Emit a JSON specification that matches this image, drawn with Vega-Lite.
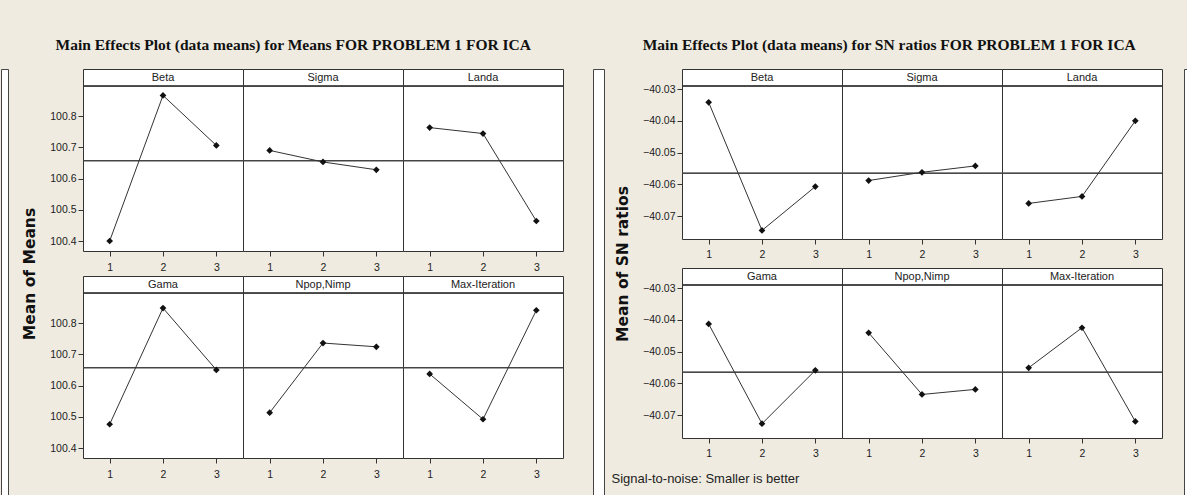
{
  "$schema": "https://vega.github.io/schema/vega-lite/v6.json",
  "background": "#efebe0",
  "padding": {"left": 0, "top": 5, "right": 0, "bottom": 0},
  "spacing": 28,
  "datasets": {
    "means": [
      {"factor": "Beta", "r": 1, "c": 1, "level": 1, "mean": 100.400},
      {"factor": "Beta", "r": 1, "c": 1, "level": 2, "mean": 100.866},
      {"factor": "Beta", "r": 1, "c": 1, "level": 3, "mean": 100.706},
      {"factor": "Sigma", "r": 1, "c": 2, "level": 1, "mean": 100.690},
      {"factor": "Sigma", "r": 1, "c": 2, "level": 2, "mean": 100.653},
      {"factor": "Sigma", "r": 1, "c": 2, "level": 3, "mean": 100.628},
      {"factor": "Landa", "r": 1, "c": 3, "level": 1, "mean": 100.763},
      {"factor": "Landa", "r": 1, "c": 3, "level": 2, "mean": 100.744},
      {"factor": "Landa", "r": 1, "c": 3, "level": 3, "mean": 100.464},
      {"factor": "Gama", "r": 2, "c": 1, "level": 1, "mean": 100.476},
      {"factor": "Gama", "r": 2, "c": 1, "level": 2, "mean": 100.848},
      {"factor": "Gama", "r": 2, "c": 1, "level": 3, "mean": 100.650},
      {"factor": "Npop,Nimp", "r": 2, "c": 2, "level": 1, "mean": 100.513},
      {"factor": "Npop,Nimp", "r": 2, "c": 2, "level": 2, "mean": 100.736},
      {"factor": "Npop,Nimp", "r": 2, "c": 2, "level": 3, "mean": 100.724},
      {"factor": "Max-Iteration", "r": 2, "c": 3, "level": 1, "mean": 100.637},
      {"factor": "Max-Iteration", "r": 2, "c": 3, "level": 2, "mean": 100.492},
      {"factor": "Max-Iteration", "r": 2, "c": 3, "level": 3, "mean": 100.841}
    ],
    "sn": [
      {"factor": "Beta", "r": 1, "c": 1, "level": 1, "sn": -40.0342},
      {"factor": "Beta", "r": 1, "c": 1, "level": 2, "sn": -40.0745},
      {"factor": "Beta", "r": 1, "c": 1, "level": 3, "sn": -40.0607},
      {"factor": "Sigma", "r": 1, "c": 2, "level": 1, "sn": -40.0588},
      {"factor": "Sigma", "r": 1, "c": 2, "level": 2, "sn": -40.0562},
      {"factor": "Sigma", "r": 1, "c": 2, "level": 3, "sn": -40.0542},
      {"factor": "Landa", "r": 1, "c": 3, "level": 1, "sn": -40.0660},
      {"factor": "Landa", "r": 1, "c": 3, "level": 2, "sn": -40.0638},
      {"factor": "Landa", "r": 1, "c": 3, "level": 3, "sn": -40.0400},
      {"factor": "Gama", "r": 2, "c": 1, "level": 1, "sn": -40.0413},
      {"factor": "Gama", "r": 2, "c": 1, "level": 2, "sn": -40.0727},
      {"factor": "Gama", "r": 2, "c": 1, "level": 3, "sn": -40.0559},
      {"factor": "Npop,Nimp", "r": 2, "c": 2, "level": 1, "sn": -40.0441},
      {"factor": "Npop,Nimp", "r": 2, "c": 2, "level": 2, "sn": -40.0635},
      {"factor": "Npop,Nimp", "r": 2, "c": 2, "level": 3, "sn": -40.0619},
      {"factor": "Max-Iteration", "r": 2, "c": 3, "level": 1, "sn": -40.0551},
      {"factor": "Max-Iteration", "r": 2, "c": 3, "level": 2, "sn": -40.0425},
      {"factor": "Max-Iteration", "r": 2, "c": 3, "level": 3, "sn": -40.0720}
    ]
  },
  "hconcat": [
    {
      "spacing": 13,
      "hconcat": [
        {
          "width": 7, "height": 487,
          "data": {"values": []},
          "mark": "rule",
          "encoding": {},
          "view": {"fill": "white", "stroke": "#444", "strokeWidth": 1}
        },
        {
          "title": {"text": ["", "Main Effects Plot (data means) for Means FOR PROBLEM 1 FOR ICA"], "lineHeight": 33, "offset": 15},
          "data": {"name": "means"},
          "facet": {
            "row": {"field": "r", "type": "ordinal", "header": {"title": "Mean of Means", "labels": false, "titlePadding": 1, "labelPadding": 0}},
            "column": {"field": "c", "type": "ordinal", "header": {"title": null, "labels": false, "labelPadding": 0, "titlePadding": 0}}
          },
          "bounds": "flush",
          "spacing": {"row": 25, "column": 0},
          "resolve": {"axis": {"x": "independent"}},
          "spec": {
            "width": 160,
            "height": 182,
            "layer": [
              {
                "mark": {"type": "rule", "color": "#333", "strokeWidth": 1},
                "encoding": {
                  "y": {"datum": 100.896, "type": "quantitative", "scale": {"domain": [100.368, 100.9506], "nice": false, "zero": false}}
                }
              },
              {
                "mark": {"type": "rule", "color": "#444", "strokeWidth": 1},
                "encoding": {
                  "y": {"datum": 100.657, "type": "quantitative", "scale": {"domain": [100.368, 100.9506], "nice": false, "zero": false}}
                }
              },
              {
                "transform": [{"filter": "datum.level == 2"}],
                "mark": {"type": "text", "font": "Liberation Sans", "fontSize": 11, "color": "#222", "baseline": "middle"},
                "encoding": {
                  "x": {"datum": 2, "type": "quantitative", "scale": {"domain": [0.5, 3.5], "nice": false, "zero": false}},
                  "y": {"datum": 100.923, "type": "quantitative", "scale": {"domain": [100.368, 100.9506], "nice": false, "zero": false}},
                  "text": {"field": "factor"}
                }
              },
              {
                "mark": {"type": "line", "color": "#333", "strokeWidth": 1},
                "encoding": {
                  "x": {"field": "level", "type": "quantitative", "scale": {"domain": [0.5, 3.5], "nice": false, "zero": false}, "axis": {"values": [1, 2, 3], "format": "d", "title": null, "labelPadding": 6}},
                  "y": {"field": "mean", "type": "quantitative", "scale": {"domain": [100.368, 100.9506], "nice": false, "zero": false}, "axis": {"values": [100.4, 100.5, 100.6, 100.7, 100.8], "format": ".1f", "title": null, "labelPadding": 2}}
                }
              },
              {
                "mark": {"type": "point", "shape": "diamond", "filled": true, "color": "#111", "size": 45, "opacity": 1},
                "encoding": {
                  "x": {"field": "level", "type": "quantitative", "scale": {"domain": [0.5, 3.5], "nice": false, "zero": false}},
                  "y": {"field": "mean", "type": "quantitative", "scale": {"domain": [100.368, 100.9506], "nice": false, "zero": false}}
                }
              }
            ]
          }
        }
      ]
    },
    {
      "spacing": 6,
      "hconcat": [
        {
          "width": 11, "height": 487,
          "data": {"values": []},
          "mark": "rule",
          "encoding": {},
          "view": {"fill": "white", "stroke": "#444", "strokeWidth": 1}
        },
        {
          "spacing": 20,
          "hconcat": [
            {
              "title": {"text": "Signal-to-noise: Smaller is better", "orient": "bottom", "anchor": "start", "font": "Liberation Sans", "fontSize": 13, "fontWeight": "normal", "color": "#222", "offset": 14, "dx": -4},
              "vconcat": [
                {
                  "title": {"text": ["", "Main Effects Plot (data means) for SN ratios FOR PROBLEM 1 FOR ICA"], "lineHeight": 33, "offset": 15},
                  "data": {"name": "sn"},
                  "facet": {
                    "row": {"field": "r", "type": "ordinal", "header": {"title": "Mean of SN ratios", "labels": false, "titlePadding": 1, "labelPadding": 0}},
                    "column": {"field": "c", "type": "ordinal", "header": {"title": null, "labels": false, "labelPadding": 0, "titlePadding": 0}}
                  },
                  "bounds": "flush",
                  "spacing": {"row": 29, "column": 0},
                  "resolve": {"axis": {"x": "independent"}},
                  "spec": {
                    "width": 160,
                    "height": 170,
                    "layer": [
                      {
                        "mark": {"type": "rule", "color": "#333", "strokeWidth": 1},
                        "encoding": {
                          "y": {"datum": -40.02905, "type": "quantitative", "scale": {"domain": [-40.0772, -40.0237], "nice": false, "zero": false}}
                        }
                      },
                      {
                        "mark": {"type": "rule", "color": "#444", "strokeWidth": 1},
                        "encoding": {
                          "y": {"datum": -40.0565, "type": "quantitative", "scale": {"domain": [-40.0772, -40.0237], "nice": false, "zero": false}}
                        }
                      },
                      {
                        "transform": [{"filter": "datum.level == 2"}],
                        "mark": {"type": "text", "font": "Liberation Sans", "fontSize": 11, "color": "#222", "baseline": "middle"},
                        "encoding": {
                          "x": {"datum": 2, "type": "quantitative", "scale": {"domain": [0.5, 3.5], "nice": false, "zero": false}},
                          "y": {"datum": -40.0264, "type": "quantitative", "scale": {"domain": [-40.0772, -40.0237], "nice": false, "zero": false}},
                          "text": {"field": "factor"}
                        }
                      },
                      {
                        "mark": {"type": "line", "color": "#333", "strokeWidth": 1},
                        "encoding": {
                          "x": {"field": "level", "type": "quantitative", "scale": {"domain": [0.5, 3.5], "nice": false, "zero": false}, "axis": {"values": [1, 2, 3], "format": "d", "title": null, "labelPadding": 5}},
                          "y": {"field": "sn", "type": "quantitative", "scale": {"domain": [-40.0772, -40.0237], "nice": false, "zero": false}, "axis": {"values": [-40.07, -40.06, -40.05, -40.04, -40.03], "format": ".2f", "title": null, "labelPadding": 2}}
                        }
                      },
                      {
                        "mark": {"type": "point", "shape": "diamond", "filled": true, "color": "#111", "size": 45, "opacity": 1},
                        "encoding": {
                          "x": {"field": "level", "type": "quantitative", "scale": {"domain": [0.5, 3.5], "nice": false, "zero": false}},
                          "y": {"field": "sn", "type": "quantitative", "scale": {"domain": [-40.0772, -40.0237], "nice": false, "zero": false}}
                        }
                      }
                    ]
                  }
                }
              ]
            },
            {
              "width": 3, "height": 487,
              "data": {"values": []},
              "mark": "rule",
              "encoding": {},
              "view": {"fill": "white", "stroke": "#444", "strokeWidth": 1}
            }
          ]
        }
      ]
    }
  ],
  "config": {
    "view": {"stroke": "#333", "strokeWidth": 1, "fill": "white"},
    "axis": {"grid": false, "domain": false, "tickColor": "#333", "tickSize": 5, "labelFont": "Liberation Sans", "labelFontSize": 10.5, "labelColor": "#222"},
    "header": {"titleFont": "DejaVu Sans", "titleFontSize": 15.5, "titleFontWeight": "bold", "titleColor": "#111"},
    "title": {"font": "Liberation Serif", "fontSize": 15.5, "fontWeight": "bold", "color": "#111", "anchor": "middle"}
  }
}
